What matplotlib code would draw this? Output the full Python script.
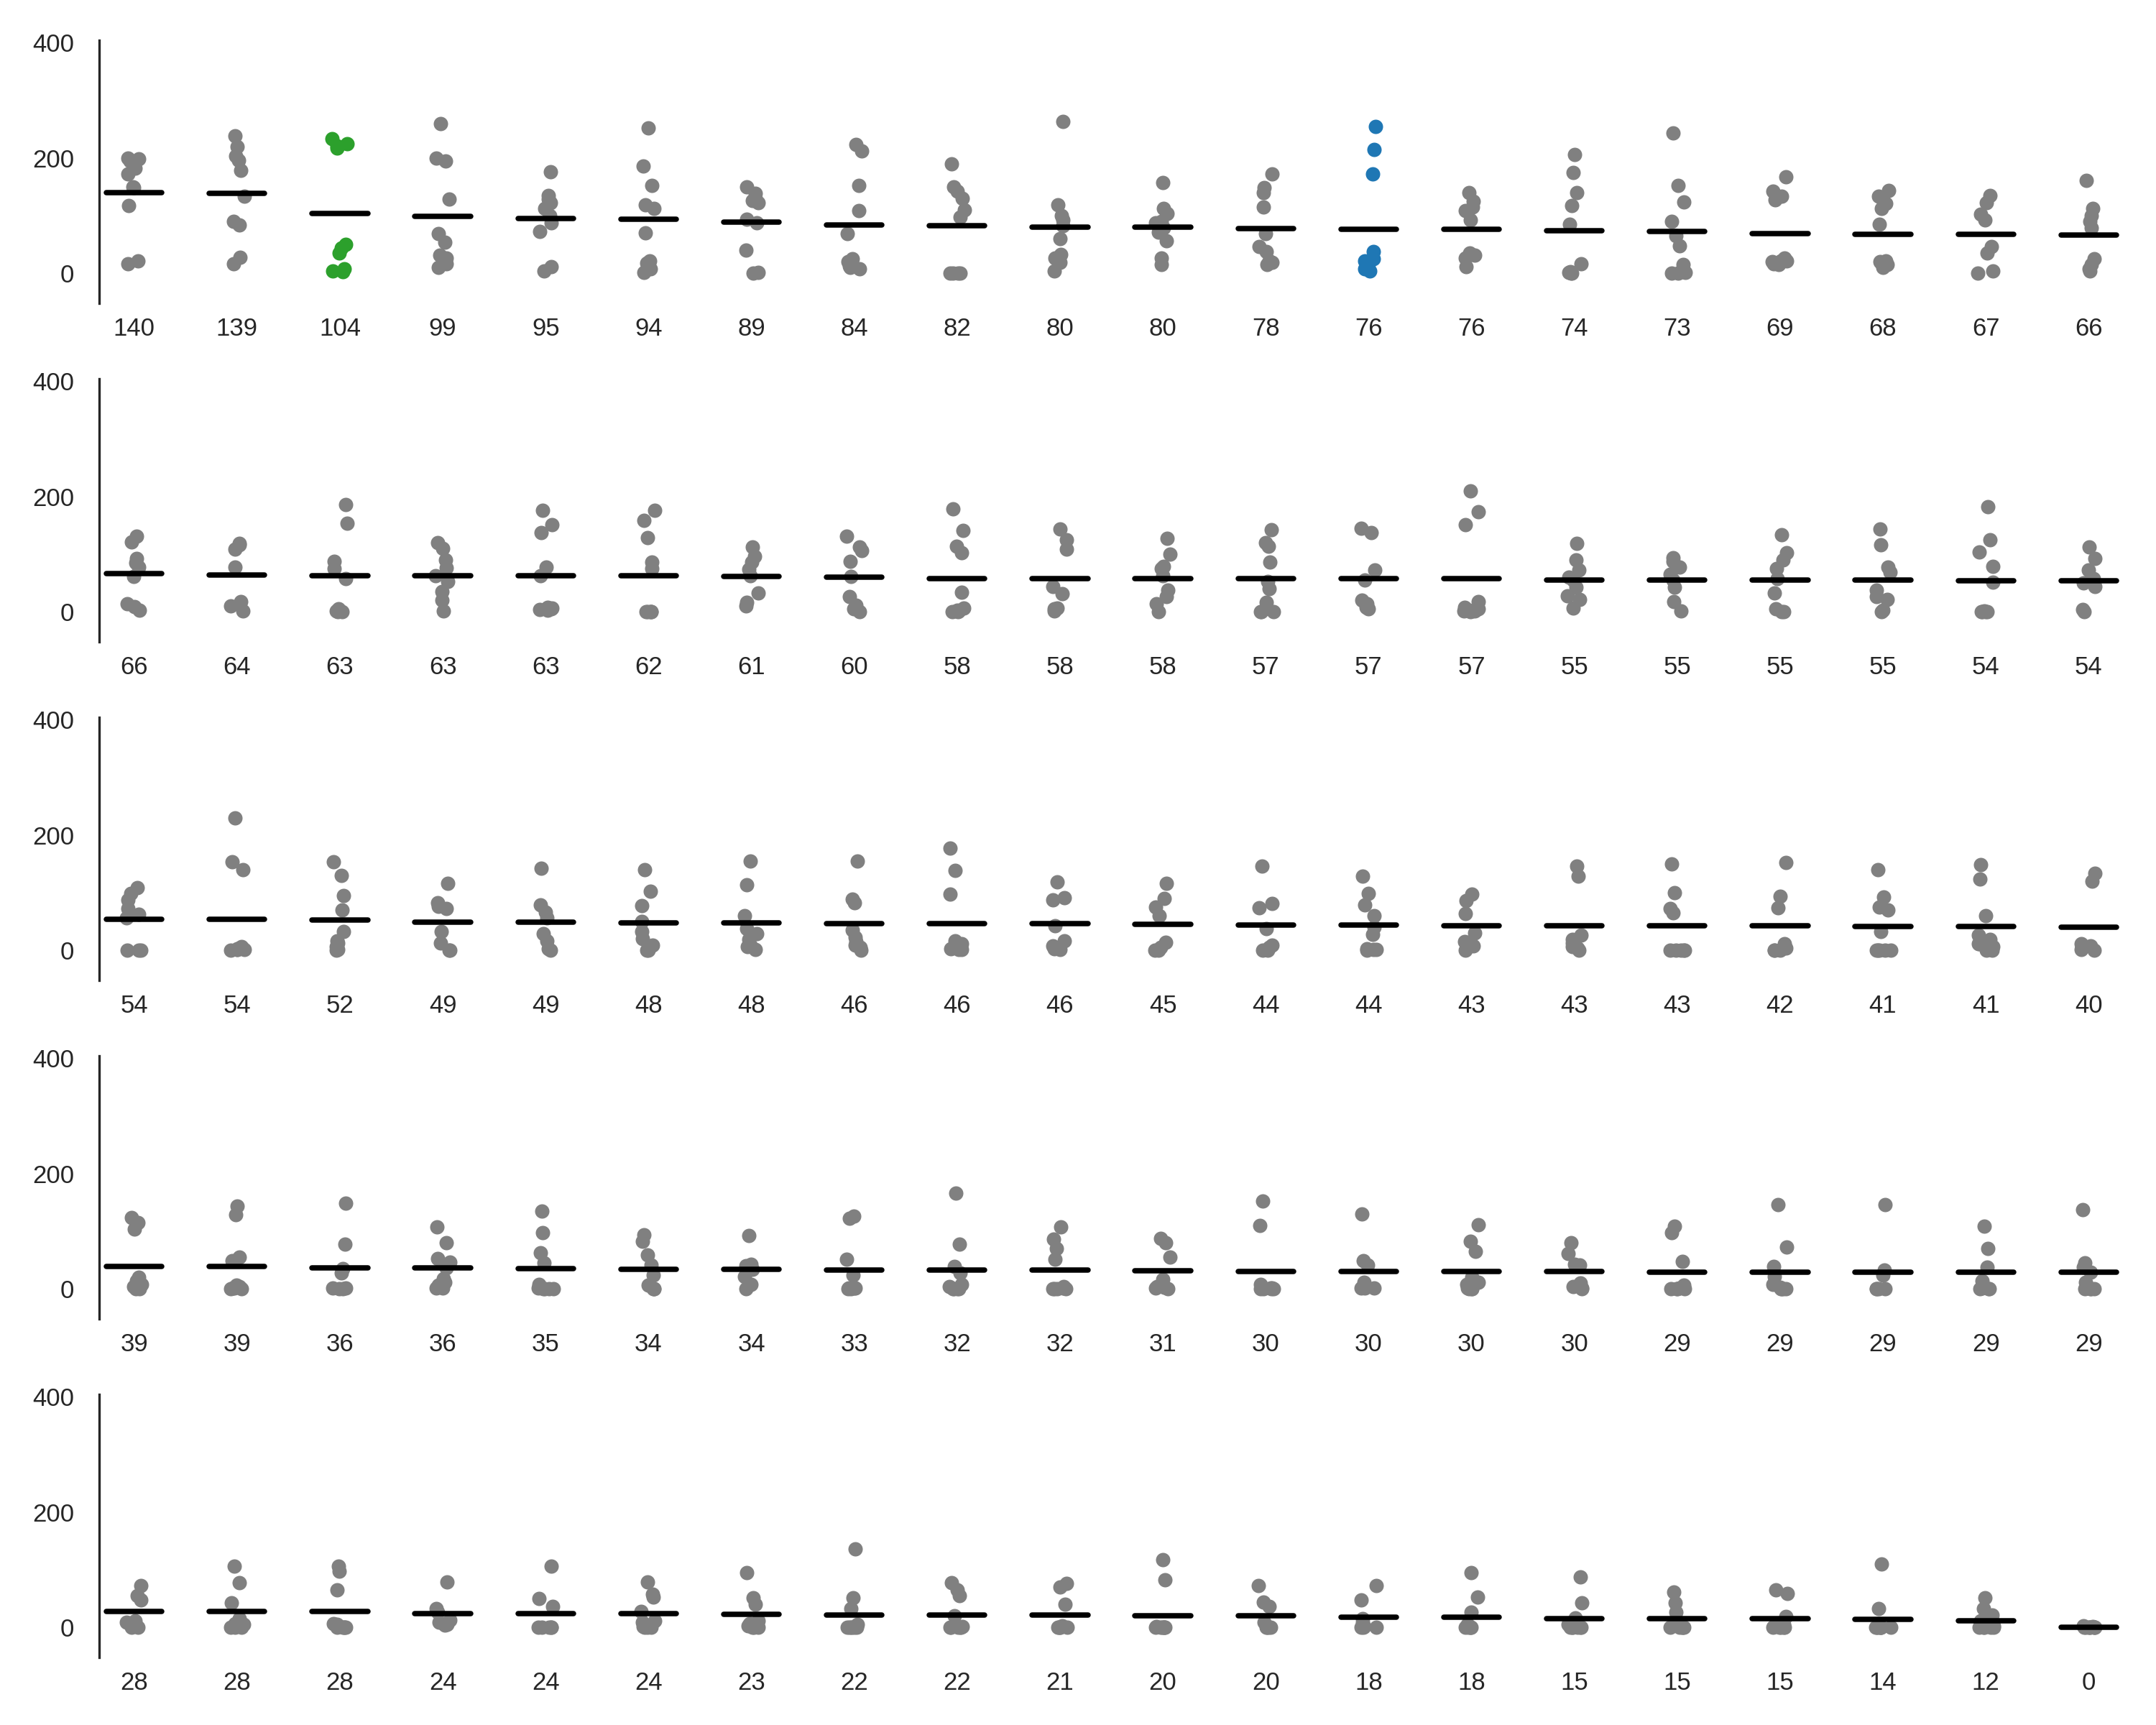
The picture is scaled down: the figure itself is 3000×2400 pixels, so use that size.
import numpy as np
import matplotlib
matplotlib.use('Agg')
import matplotlib.pyplot as plt

plt.rcParams['font.family'] = ['Liberation Sans', 'DejaVu Sans']

# medias (etiquetas del eje x), por fila
medias_1 = [140, 139, 104, 99, 95, 94, 89, 84, 82, 80, 80, 78, 76, 76, 74, 73, 69, 68, 67, 66]
medias_2 = [66, 64, 63, 63, 63, 62, 61, 60, 58, 58, 58, 57, 57, 57, 55, 55, 55, 55, 54, 54]
medias_3 = [54, 54, 52, 49, 49, 48, 48, 46, 46, 46, 45, 44, 44, 43, 43, 43, 42, 41, 41, 40]
medias_4 = [39, 39, 36, 36, 35, 34, 34, 33, 32, 32, 31, 30, 30, 30, 30, 29, 29, 29, 29, 29]
medias_5 = [28, 28, 28, 24, 24, 24, 23, 22, 22, 21, 20, 20, 18, 18, 15, 15, 15, 14, 12, 0]

# puntos de cada grupo
puntos_1 = [
    [200, 195, 198, 182, 172, 150, 148, 117, 22, 16],
    [238, 220, 203, 196, 178, 134, 90, 84, 28, 17],
    [233, 225, 221, 217, 50, 44, 35, 8, 4, 3],
    [259, 200, 194, 129, 69, 54, 31, 27, 17, 10],
    [176, 135, 128, 122, 112, 100, 88, 73, 12, 4],
    [252, 186, 152, 118, 112, 70, 22, 18, 8, 2],
    [150, 138, 130, 126, 122, 94, 88, 40, 2, 0],
    [223, 212, 152, 108, 69, 25, 20, 13, 10, 8],
    [190, 150, 142, 130, 110, 98, 0, 0, 0, 0],
    [263, 119, 100, 92, 83, 60, 33, 27, 19, 4],
    [157, 112, 104, 90, 88, 79, 71, 56, 27, 15],
    [172, 148, 140, 115, 69, 46, 37, 19, 15, 21],
    [254, 215, 172, 37, 25, 21, 15, 9, 8, 4],
    [140, 125, 115, 108, 92, 35, 31, 26, 12],
    [206, 175, 140, 117, 85, 17, 3, 2, 0, 0],
    [243, 152, 124, 90, 65, 48, 15, 2, 0, 0],
    [167, 142, 133, 127, 27, 22, 21, 20, 17, 15],
    [144, 133, 121, 112, 85, 21, 20, 19, 15, 10],
    [135, 122, 102, 92, 46, 35, 4, 0],
    [161, 112, 100, 90, 79, 25, 15, 8, 4],
]
puntos_2 = [
    [131, 121, 92, 85, 78, 61, 14, 9, 3],
    [118, 116, 108, 77, 18, 10, 1],
    [186, 153, 88, 75, 58, 5, 2, 0, 0],
    [120, 110, 90, 76, 62, 52, 35, 20, 2],
    [176, 151, 137, 77, 63, 8, 6, 5, 4, 3],
    [176, 158, 128, 86, 75, 0, 0, 0, 0, 0],
    [112, 96, 86, 74, 62, 32, 16, 10],
    [131, 112, 106, 88, 61, 26, 11, 5, 0],
    [178, 141, 114, 102, 34, 7, 3, 1, 0, 0],
    [143, 125, 108, 44, 31, 7, 5, 1],
    [127, 100, 79, 75, 63, 38, 26, 14, 0],
    [142, 120, 114, 86, 52, 40, 16, 0, 0, 0],
    [145, 137, 72, 55, 20, 14, 8, 5],
    [209, 174, 151, 18, 8, 5, 3, 1, 1, 0],
    [118, 90, 73, 60, 55, 42, 28, 22, 7],
    [94, 88, 77, 65, 55, 42, 18, 1],
    [133, 102, 90, 75, 58, 32, 5, 0, 0],
    [143, 116, 77, 69, 38, 27, 22, 3, 0],
    [182, 125, 104, 79, 51, 1, 0, 0, 0, 0],
    [112, 92, 73, 57, 50, 44, 4, 0],
]
puntos_3 = [
    [109, 99, 87, 72, 62, 56, 0, 0, 0],
    [229, 153, 140, 6, 4, 3, 2, 2, 1, 0],
    [153, 130, 95, 70, 33, 17, 13, 7, 2, 0],
    [116, 83, 76, 72, 33, 13, 0, 0],
    [142, 79, 66, 56, 29, 17, 3, 0],
    [140, 103, 77, 50, 33, 20, 9, 0, 0],
    [155, 114, 60, 38, 29, 19, 9, 7, 1],
    [155, 89, 83, 35, 23, 15, 9, 5, 0],
    [177, 138, 97, 17, 12, 8, 5, 3, 2, 1],
    [118, 91, 88, 42, 17, 8, 3, 1],
    [116, 90, 75, 60, 14, 5, 0, 0],
    [146, 81, 74, 37, 9, 5, 0, 0],
    [128, 99, 79, 60, 40, 28, 3, 2, 1, 0],
    [98, 86, 64, 30, 15, 8, 0],
    [146, 128, 27, 19, 13, 7, 4, 0],
    [150, 100, 72, 65, 0, 0, 0, 0, 0],
    [152, 94, 74, 12, 4, 0, 0, 0],
    [140, 93, 75, 70, 33, 0, 0, 0, 0, 0],
    [149, 124, 60, 27, 19, 12, 12, 7, 0, 0],
    [134, 120, 12, 8, 5, 1, 0],
]
puntos_4 = [
    [123, 115, 104, 20, 14, 8, 4, 2, 0, 0],
    [144, 129, 55, 49, 6, 4, 2, 1, 0, 0],
    [148, 78, 35, 28, 2, 1, 0, 0],
    [107, 80, 52, 46, 36, 18, 12, 6, 2, 1],
    [135, 98, 62, 45, 8, 2, 0, 0, 0, 0],
    [94, 82, 59, 41, 24, 6, 0, 0, 0],
    [92, 42, 40, 34, 22, 8, 0],
    [126, 122, 51, 24, 3, 2, 1, 1, 0, 0],
    [166, 78, 39, 28, 8, 4, 0, 0, 0, 0],
    [107, 86, 70, 51, 4, 2, 0, 0, 0, 0],
    [88, 80, 55, 16, 4, 3, 2, 0],
    [152, 110, 8, 2, 1, 0, 0, 0, 0],
    [130, 49, 41, 12, 4, 2, 1, 1],
    [111, 82, 65, 20, 12, 8, 2, 0, 0, 0],
    [80, 61, 43, 41, 10, 4, 1, 0],
    [108, 97, 48, 6, 2, 0, 0, 0, 0],
    [146, 72, 39, 22, 8, 3, 0, 0, 0, 0],
    [146, 33, 24, 0, 0, 0, 0],
    [108, 70, 38, 14, 2, 0, 0, 0],
    [137, 45, 38, 29, 12, 0, 0, 0, 0],
]
puntos_5 = [
    [72, 55, 48, 12, 9, 0, 0],
    [106, 77, 42, 15, 7, 5, 0, 0, 0],
    [106, 98, 65, 6, 5, 0, 0, 0, 0, 0],
    [79, 32, 26, 13, 9, 5, 4],
    [106, 50, 36, 0, 0, 0, 0, 0],
    [79, 58, 53, 28, 12, 9, 1, 0, 0, 0],
    [95, 51, 40, 11, 7, 3, 0, 0, 0],
    [136, 51, 32, 5, 0, 0, 0, 0, 0, 0],
    [78, 65, 55, 20, 1, 0, 0, 0, 0, 0],
    [76, 70, 40, 3, 0, 0, 0, 0, 0],
    [117, 82, 1, 0, 0, 0, 0, 0, 0, 0],
    [73, 44, 36, 9, 0, 0, 0, 0],
    [73, 48, 15, 9, 1, 0, 0, 0],
    [95, 52, 26, 5, 2, 0, 0, 0, 0, 0],
    [87, 42, 16, 5, 0, 0, 0, 0, 0, 0],
    [61, 42, 26, 6, 0, 0, 0, 0, 0],
    [65, 59, 19, 5, 2, 0, 0, 0, 0, 0],
    [110, 32, 0, 0, 0, 0, 0, 0, 0, 0],
    [51, 32, 22, 12, 3, 0, 0, 0, 0, 0],
    [3, 1, 0, 0, 0, 0, 0, 0, 0, 0],
]

filas = [(medias_1, puntos_1), (medias_2, puntos_2), (medias_3, puntos_3),
         (medias_4, puntos_4), (medias_5, puntos_5)]

# grupos resaltados (fila, indice) -> color
resaltados = {(0, 2): '#2ca02c', (0, 12): '#1f77b4'}

GRIS = '#808080'
TXT = '#262626'
rng = np.random.default_rng(3)

fig = plt.figure(figsize=(15, 12), dpi=200)
left, right = 0.046, 0.985
top0, h, paso = 0.9767, 0.1525, 0.19625

for r, (medias, puntos) in enumerate(filas):
    ax = fig.add_axes([left, top0 - h - r * paso, right - left, h])
    for i, (m, pts) in enumerate(zip(medias, puntos)):
        col = resaltados.get((r, i), GRIS)
        xj = i + rng.uniform(-0.075, 0.075, len(pts))
        ax.scatter(xj, pts, s=52, color=col, linewidths=0, zorder=2)
        ax.plot([i - 0.27, i + 0.27], [m, m], color='black', lw=2.7,
                solid_capstyle='round', zorder=3)
    ax.set_xlim(-0.34, 19.34)
    ax.set_ylim(-52, 404)
    ax.set_xticks(range(len(medias)))
    ax.set_xticklabels([str(m) for m in medias])
    ax.set_yticks([0, 200, 400])
    ax.tick_params(axis='x', length=0, pad=7, labelsize=12.5, labelcolor=TXT)
    ax.tick_params(axis='y', length=0, pad=12.5, labelsize=12.5, labelcolor=TXT)
    for s in ['top', 'right', 'bottom']:
        ax.spines[s].set_visible(False)
    ax.spines['left'].set_color(TXT)
    ax.spines['left'].set_linewidth(1.2)

fig.savefig('out.png', dpi=200, facecolor='white')
